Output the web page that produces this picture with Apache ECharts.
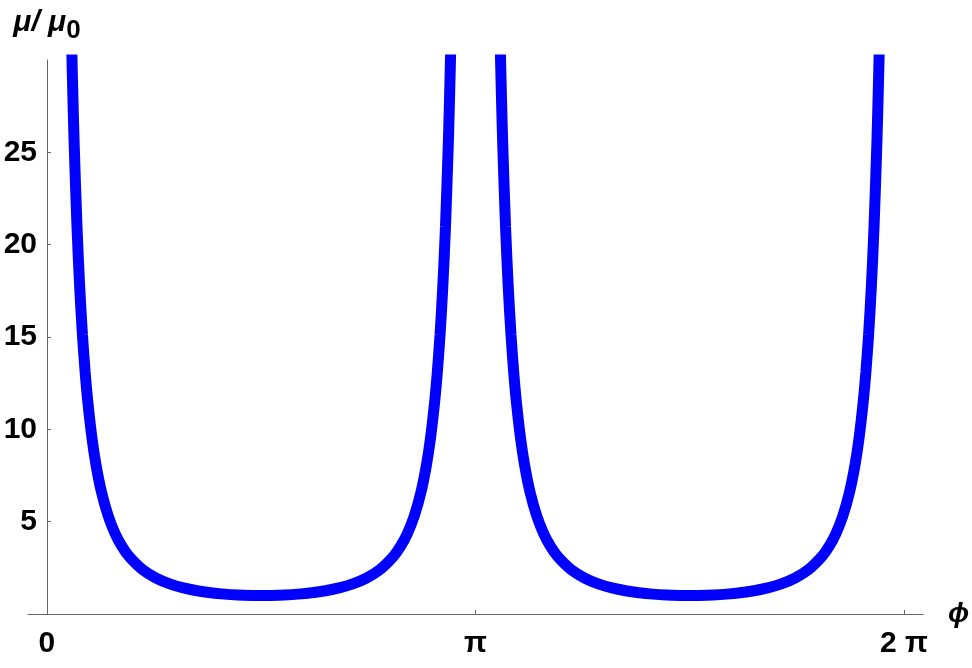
<!DOCTYPE html>
<html>
<head>
<meta charset="utf-8">
<script src="https://cdn.jsdelivr.net/npm/echarts@6/dist/echarts.min.js"></script>
<style>
  html, body { margin: 0; padding: 0; background: #fff; }
  #chart { width: 972px; height: 668px; }
</style>
</head>
<body>
<div id="chart"></div>
<script>
// left branch (0 < phi < pi)
const phiLeft = [0.17, 0.18, 0.19, 0.20, 0.22, 0.24, 0.26, 0.28, 0.30, 0.33, 0.36, 0.40, 0.45, 0.50, 0.55, 0.60,
  0.70, 0.80, 0.90, 1.00, 1.10, 1.20, 1.30, 1.40, 1.50, 1.5708,
  1.6416, 1.7416, 1.8416, 1.9416, 2.0416, 2.1416, 2.2416, 2.3416, 2.4416, 2.5416, 2.5916, 2.6416, 2.6916,
  2.7416, 2.7816, 2.8116, 2.8416, 2.8616, 2.8816, 2.9016, 2.9216, 2.9416, 2.9516, 2.9616, 2.9716];
const muLeft = [34.94, 31.20, 28.04, 25.34, 21.00, 17.70, 15.13, 13.09, 11.45, 9.524, 8.058, 6.594, 5.285, 4.351, 3.660, 3.137,
  2.410, 1.943, 1.630, 1.412, 1.259, 1.151, 1.077, 1.030, 1.005, 1.000,
  1.005, 1.030, 1.077, 1.151, 1.259, 1.412, 1.630, 1.943, 2.410, 3.137, 3.660, 4.351, 5.285,
  6.594, 8.058, 9.524, 11.45, 13.09, 15.13, 17.70, 21.00, 25.34, 28.04, 31.20, 34.94];

// right branch (pi < phi < 2 pi)
const phiRight = [3.3116, 3.3216, 3.3316, 3.3416, 3.3616, 3.3816, 3.4016, 3.4216, 3.4416, 3.4716, 3.5016, 3.5416, 3.5916, 3.6416, 3.6916, 3.7416,
  3.8416, 3.9416, 4.0416, 4.1416, 4.2416, 4.3416, 4.4416, 4.5416, 4.6416, 4.7124,
  4.7832, 4.8832, 4.9832, 5.0832, 5.1832, 5.2832, 5.3832, 5.4832, 5.5832, 5.6832, 5.7332, 5.7832, 5.8332,
  5.8832, 5.9232, 5.9532, 5.9832, 6.0032, 6.0232, 6.0432, 6.0632, 6.0832, 6.0932, 6.1032, 6.1132];
const muRight = [34.94, 31.20, 28.04, 25.34, 21.00, 17.70, 15.13, 13.09, 11.45, 9.524, 8.058, 6.594, 5.285, 4.351, 3.660, 3.137,
  2.410, 1.943, 1.630, 1.412, 1.259, 1.151, 1.077, 1.030, 1.005, 1.000,
  1.005, 1.030, 1.077, 1.151, 1.259, 1.412, 1.630, 1.943, 2.410, 3.137, 3.660, 4.351, 5.285,
  6.594, 8.058, 9.524, 11.45, 13.09, 15.13, 17.70, 21.00, 25.34, 28.04, 31.20, 34.94];

const xTickValues = [0, Math.PI, 2 * Math.PI];
const xTickLabels = ['0', 'π', '2 π'];
const yTickValues = [5, 10, 15, 20, 25];

const axisColor = '#666666';
const font = '"Liberation Sans", Arial, sans-serif';

const chart = echarts.init(document.getElementById('chart'));

chart.setOption({
  animation: false,
  grid: { left: 28, right: 49, top: 60, bottom: 54, containLabel: false, outerBoundsMode: 'none' },
  xAxis: {
    type: 'value',
    min: -0.139,
    max: 6.422,
    name: 'ϕ',
    nameLocation: 'end',
    nameGap: 25,
    nameTextStyle: { fontSize: 28, fontWeight: 'bold', fontStyle: 'italic', color: '#000', fontFamily: font, align: 'left', verticalAlign: 'middle' },
    axisLine: { onZero: true, lineStyle: { color: axisColor, width: 1 } },
    axisTick: { show: true, inside: true, length: 4, customValues: [Math.PI, 2 * Math.PI], lineStyle: { color: axisColor } },
    axisLabel: {
      customValues: xTickValues,
      margin: 15,
      fontSize: 30, fontWeight: 'bold', color: '#000', fontFamily: font,
      formatter: v => xTickLabels[xTickValues.findIndex(t => Math.abs(t - v) < 1e-6)]
    },
    splitLine: { show: false }
  },
  yAxis: {
    type: 'value',
    min: 0,
    max: 30,
    name: '{a|μ/ μ}{b|0}',
    nameLocation: 'end',
    nameGap: 16,
    nameTextStyle: {
      align: 'center',
      rich: {
        a: { fontSize: 30, fontWeight: 'bold', fontStyle: 'italic', color: '#000', fontFamily: font },
        b: { fontSize: 26, fontWeight: 'bold', color: '#000', fontFamily: font, padding: [16, 0, 0, 0] }
      }
    },
    axisLine: { show: true, onZero: true, lineStyle: { color: axisColor, width: 1 } },
    axisTick: { show: true, inside: true, length: 4, customValues: yTickValues, lineStyle: { color: axisColor } },
    axisLabel: {
      customValues: yTickValues,
      // labels are laid out from the grid edge, the axis line sits at x = 0
      margin: -9,
      fontSize: 30, fontWeight: 'bold', color: '#000', fontFamily: font
    },
    splitLine: { show: false }
  },
  series: [
    {
      type: 'line',
      data: phiLeft.map((p, i) => [p, muLeft[i]]),
      showSymbol: false,
      smooth: 0.3,
      clip: true,
      lineStyle: { color: '#0000FF', width: 11 }
    },
    {
      type: 'line',
      data: phiRight.map((p, i) => [p, muRight[i]]),
      showSymbol: false,
      smooth: 0.3,
      clip: true,
      lineStyle: { color: '#0000FF', width: 11 }
    }
  ]
});
</script>
</body>
</html>
